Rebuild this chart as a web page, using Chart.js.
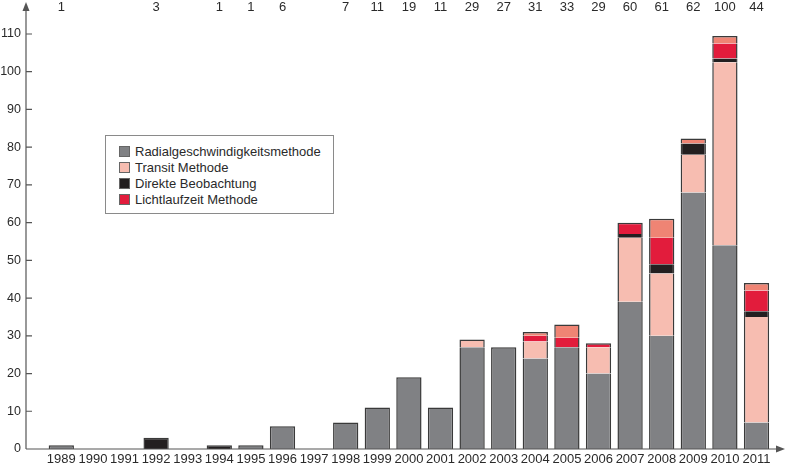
<!DOCTYPE html>
<html>
<head>
<meta charset="utf-8">
<script src="https://cdn.jsdelivr.net/npm/chart.js@4"></script>
<style>
  body { margin: 0; background: #fff; }
  #wrap { position: relative; width: 785px; height: 467px; }
  #legend {
    position: absolute; left: 105px; top: 135px; width: 229px; height: 79px;
    border: 1px solid #8a8a8a; background: #fff; box-sizing: border-box;
    padding: 8px 0 0 13px; font: 13px "Liberation Sans", Arial, sans-serif; color: #2a2a2a;
  }
  #legend div { height: 16px; line-height: 16px; white-space: nowrap; }
  #legend span {
    display: inline-block; width: 9px; height: 9px; margin-right: 5px;
    border: 1px solid #666; vertical-align: -1px;
  }
</style>
</head>
<body>
<div id="wrap">
  <canvas id="myChart" width="785" height="467"></canvas>
  <div id="legend"></div>
</div>
<script>
// Data

const years = ["1989", "1990", "1991", "1992", "1993", "1994", "1995", "1996", "1997", "1998", "1999", "2000",
  "2001", "2002", "2003", "2004", "2005", "2006", "2007", "2008", "2009", "2010", "2011"];
const totals = ["1", "", "", "3", "", "1", "1", "6", "", "7", "11", "19",
  "11", "29", "27", "31", "33", "29", "60", "61", "62", "100", "44"];

const radial = [1, 0, 0, 0, 0, 0, 1, 6, 0, 7, 11, 19, 11, 27, 27, 24, 27, 20, 39, 30, 68, 54, 7];
const transit = [0, 0, 0, 0, 0, 0, 0, 0, 0, 0, 0, 0, 0, 2, 0, 4.5, 0, 7, 17, 16.5, 10, 48.5, 28];
const direct = [0, 0, 0, 3, 0, 1, 0, 0, 0, 0, 0, 0, 0, 0, 0, 0, 0, 0, 1, 2.5, 3, 1, 1.5];
const timing = [0, 0, 0, 0, 0, 0, 0, 0, 0, 0, 0, 0, 0, 0, 0, 1.5, 2.5, 1, 3, 7, 0, 4, 5.5];
const other = [0, 0, 0, 0, 0, 0, 0, 0, 0, 0, 0, 0, 0, 0, 0, 1, 3.5, 0, 0, 5, 1.3, 2, 2];

const yTicks = [0, 10, 20, 30, 40, 50, 60, 70, 80, 90, 100, 110];

// Outline only round the whole stack

function outline(ctx) {
  const ds = ctx.chart.data.datasets;
  const i = ctx.dataIndex;
  const v = ds[ctx.datasetIndex].data[i];
  let top = v > 0;
  for (let d = ctx.datasetIndex + 1; d < ds.length; d++) {
    if (ds[d].data[i] > 0) top = false;
  }
  return { left: 1.5, right: 1.5, top: top ? 1.5 : 0, bottom: 0 };
}

const axisX = 26;
const axisColor = "#555";
const textColor = "#2a2a2a";
const fontFamily = "'Liberation Sans', Arial, sans-serif";

// Axis lines with arrows, inner tick marks and y labels

const axesPlugin = {
  id: "axes",
  afterDatasetsDraw(chart) {
    const c = chart.ctx;
    const y = chart.scales.y;
    const bottom = chart.chartArea.bottom;
    c.save();
    c.strokeStyle = axisColor;
    c.fillStyle = axisColor;
    c.lineWidth = 1.2;
    c.beginPath();
    c.moveTo(axisX, bottom);
    c.lineTo(axisX, 9);
    c.moveTo(axisX, bottom);
    c.lineTo(777, bottom);
    yTicks.forEach((t) => {
      const py = y.getPixelForValue(t);
      c.moveTo(axisX, py);
      c.lineTo(axisX + 6, py);
    });
    c.stroke();
    c.beginPath();
    c.moveTo(axisX, 2);
    c.lineTo(axisX - 3.5, 11);
    c.lineTo(axisX + 3.5, 11);
    c.closePath();
    c.fill();
    c.beginPath();
    c.moveTo(785, bottom);
    c.lineTo(776, bottom - 3.5);
    c.lineTo(776, bottom + 3.5);
    c.closePath();
    c.fill();

    c.fillStyle = textColor;
    c.font = "12.5px " + fontFamily;
    c.textAlign = "right";
    c.textBaseline = "middle";
    yTicks.forEach((t) => {
      c.fillText(String(t), axisX - 5, y.getPixelForValue(t));
    });
    c.restore();
  },
};

const font = { family: fontFamily, size: 13 };
const noGrid = { display: false, drawTicks: false };

function bars(label, data, color) {
  return {
    label: label,
    data: data,
    backgroundColor: color,
    borderColor: "#3a3a3a",
    borderWidth: outline,
    borderSkipped: false,
    barPercentage: 0.8,
    categoryPercentage: 1,
  };
}

const ctx = document.getElementById("myChart");

const chart = new Chart(ctx, {
  type: "bar",
  data: {
    labels: years,
    datasets: [
      bars("Radialgeschwindigkeitsmethode", radial, "#808184"),
      bars("Transit Methode", transit, "#f7bdb1"),
      bars("Direkte Beobachtung", direct, "#231f20"),
      bars("Lichtlaufzeit Methode", timing, "#e21c3c"),
      bars("", other, "#ef8474"),
    ],
  },
  options: {
    responsive: false,
    animation: false,
    layout: { padding: { top: 0, left: 0, bottom: 0, right: 12.7 } },
    plugins: {
      legend: { display: false },
      tooltip: { enabled: false },
    },
    scales: {
      x: {
        stacked: true,
        offset: true,
        grid: noGrid,
        border: { display: false },
        ticks: { color: textColor, font: font, padding: 3, maxRotation: 0, autoSkip: false },
        afterFit: (s) => { s.height = 18; },
      },
      x2: {
        type: "category",
        position: "top",
        labels: totals,
        offset: true,
        grid: noGrid,
        border: { display: false },
        ticks: { color: textColor, font: font, padding: 3, maxRotation: 0, autoSkip: false },
        afterFit: (s) => { s.height = 18; },
      },
      y: {
        stacked: true,
        min: 0,
        max: 114.24,
        grid: noGrid,
        border: { display: false },
        ticks: { display: false },
        afterBuildTicks: (s) => { s.ticks = yTicks.map((v) => ({ value: v })); },
        afterFit: (s) => { s.width = 45.5; },
      },
    },
  },
  plugins: [axesPlugin],
});

// Legend box

const legend = document.getElementById("legend");
chart.data.datasets.filter((d) => d.label).forEach((d) => {
  const row = document.createElement("div");
  row.innerHTML = '<span style="background:' + d.backgroundColor + '"></span>' + d.label;
  legend.appendChild(row);
});
</script>
</body>
</html>
